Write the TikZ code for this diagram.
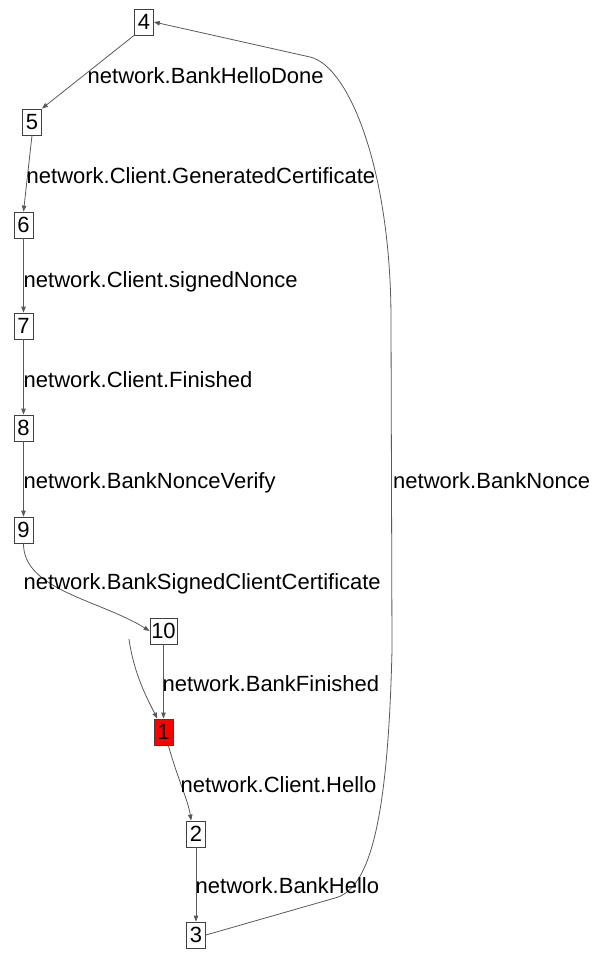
\documentclass[tikz,border=0pt]{standalone}
\usepackage{fontspec}
\setmainfont{Liberation Sans}
\usetikzlibrary{arrows.meta}
\begin{document}
\begin{tikzpicture}[x=1pt,y=-1pt,
  labelfont/.style={font=\fontsize{22}{24}\selectfont},
  state/.style={draw=black!75, line width=0.8pt, fill=white, inner sep=0pt,
    minimum height=26pt, minimum width=19pt, labelfont},
  wide/.style={minimum width=27pt},
  startstate/.style={fill=red},
  edge/.style={draw=black!65, line width=0.8pt, -{Triangle[length=6pt,width=4.5pt]}},
  lbl/.style={anchor=base west, inner sep=0pt, labelfont}]
\useasboundingbox (0,0) rectangle (592,954);

% states
\node[state] (n4) at (144,22) {4};
\node[state] (n5) at (32,122) {5};
\node[state] (n6) at (23.5,225) {6};
\node[state] (n7) at (23.5,326) {7};
\node[state] (n8) at (23.5,428) {8};
\node[state] (n9) at (23.5,530) {9};
\node[state,wide] (n10) at (163.5,631) {10};
\node[state,startstate] (n1) at (163.5,732) {1};
\node[state] (n2) at (196,834) {2};
\node[state] (n3) at (196,935) {3};

% transitions
\draw[edge] (n4.south west) -- (n5.north east);
\draw[edge] (n5.south) -- (n6.north);
\draw[edge] (n6) -- (n7);
\draw[edge] (n7) -- (n8);
\draw[edge] (n8) -- (n9);
\draw[edge] (n9.south) .. controls (23,590) and (100,600) .. (n10.west);
\draw[edge] (n10) -- (n1);
\draw[edge] (n1.290) .. controls (178,780) and (188,800) .. (n2.110);
\draw[edge] (n2) -- (n3);
\draw[edge] (n3.east) -- (335,898) .. controls (370,889) and (388,820) .. (392,650)
  -- (391,320) .. controls (391,170) and (349,66) .. (310,57) -- (n4.east);

% entry arrow into the initial state
\coordinate (entry) at (129,639);
\draw[edge] (entry) .. controls (134,675) and (148,700) .. (n1.115);

% transition labels
\node[lbl] (l45) at (87.5,83) {network.BankHelloDone};
\node[lbl] (l56) at (26.5,183) {network.Client.GeneratedCertificate};
\node[lbl] (l67) at (23.5,287) {network.Client.signedNonce};
\node[lbl] (l78) at (23.5,387) {network.Client.Finished};
\node[lbl] (l89) at (23.5,488) {network.BankNonceVerify};
\node[lbl] (l910) at (23.5,589) {network.BankSignedClientCertificate};
\node[lbl] (l101) at (162.5,691) {network.BankFinished};
\node[lbl] (l12) at (180.5,792) {network.Client.Hello};
\node[lbl] (l23) at (195.5,893) {network.BankHello};
\node[lbl] (l34) at (393,488) {network.BankNonce};
\end{tikzpicture}
\end{document}
